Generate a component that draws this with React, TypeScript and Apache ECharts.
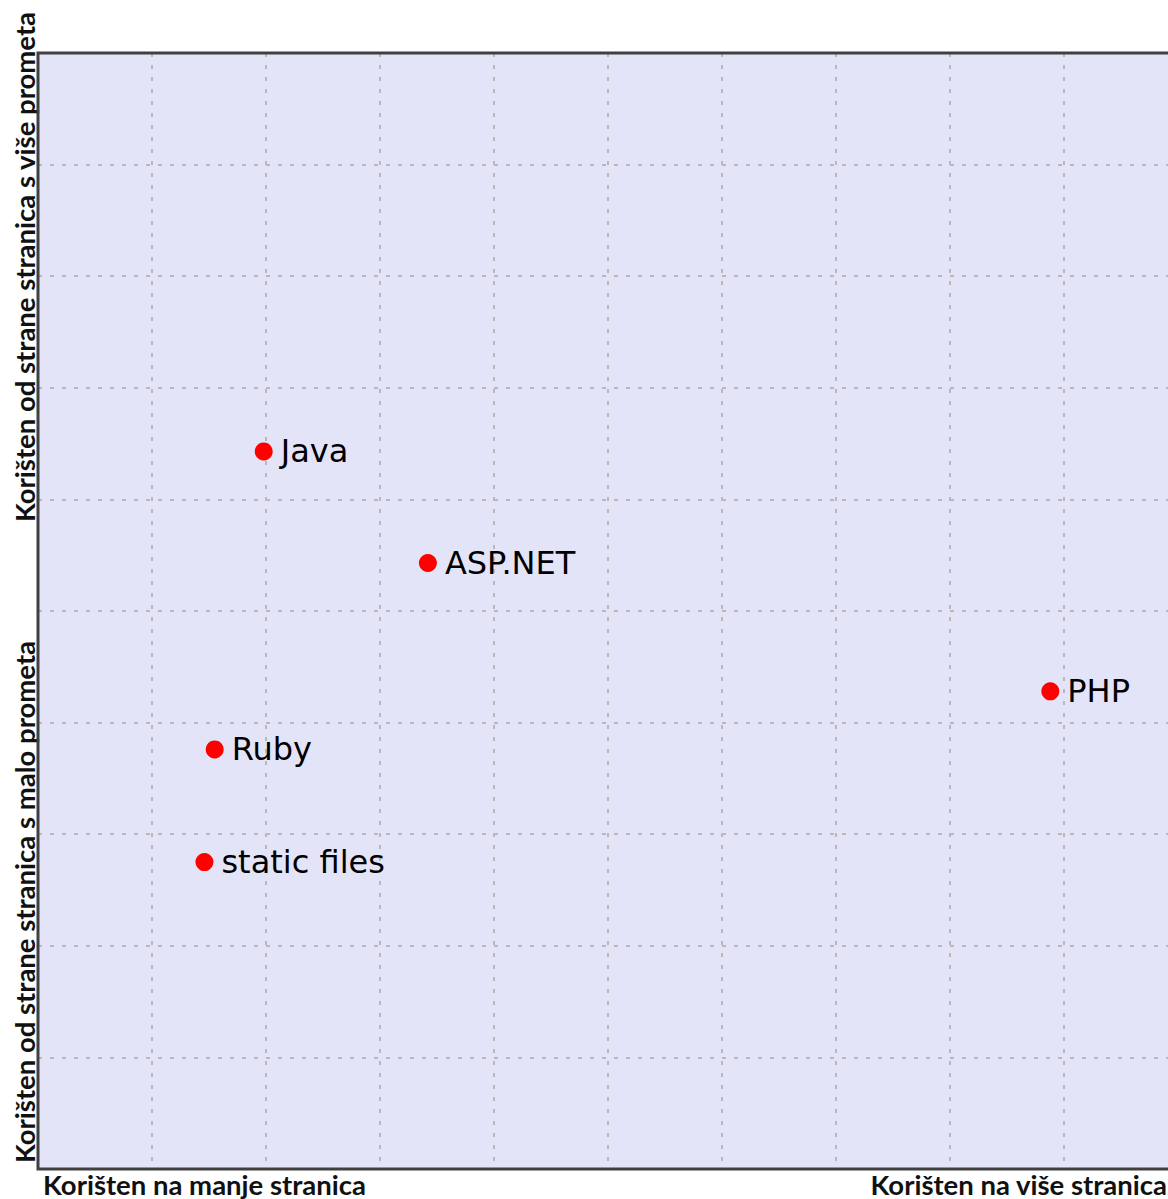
import React, { useEffect, useRef } from "react";
import * as echarts from "echarts";

const names = ["Java", "ASP.NET", "PHP", "Ruby", "static files"];
const usageX = [1.98, 3.42, 8.88, 1.55, 1.46];
const trafficY = [6.43, 5.43, 4.28, 3.76, 2.75];

const yLabelTop = "Korišten od strane stranica s više prometa";
const yLabelBottom = "Korišten od strane stranica s malo prometa";
const xLabelLeft = "Korišten na manje stranica";
const xLabelRight = "Korišten na više stranica";

export default function App() {
  const ref = useRef<HTMLDivElement>(null);
  useEffect(() => {
    if (!ref.current) return;
    const chart = echarts.init(ref.current, null, { renderer: "svg" });
    const axisFont = {
      fontFamily: "Lato",
      fontWeight: "bold" as const,
      fontSize: 27.5,
      fill: "#111",
    };
    const split = {
      show: true,
      lineStyle: { color: "#b8b8b8", width: 2, type: [4, 8] as any },
    };
    chart.setOption({
      animation: false,
      grid: {
        left: 38,
        top: 53,
        width: 1140,
        height: 1116,
        show: true,
        backgroundColor: "#e4e4f8",
        borderWidth: 0,
      },
      xAxis: {
        type: "value",
        min: 0,
        max: 10,
        interval: 1,
        axisLine: { show: false },
        axisTick: { show: false },
        axisLabel: { show: false },
        splitLine: split,
      },
      yAxis: {
        type: "value",
        min: 0,
        max: 10,
        interval: 1,
        axisLine: { show: false },
        axisTick: { show: false },
        axisLabel: { show: false },
        splitLine: split,
      },
      series: [
        {
          type: "scatter",
          symbol: "circle",
          symbolSize: 18,
          itemStyle: { color: "#ff0000", opacity: 1 },
          label: {
            show: true,
            position: "right",
            distance: 8,
            formatter: (p: any) => p.data[2],
            fontFamily: "DejaVu Sans",
            fontSize: 32,
            color: "#000",
          },
          data: names.map((n, i) => [usageX[i], trafficY[i], n]),
        },
      ],
      graphic: [
        {
          type: "rect",
          z: 100,
          shape: { x: 38, y: 53, width: 1140, height: 1116 },
          style: { fill: "none", stroke: "#404040", lineWidth: 3 },
          silent: true,
        },
        {
          type: "text",
          x: 24,
          y: 267,
          rotation: Math.PI / 2,
          style: { ...axisFont, text: yLabelTop, textAlign: "center", textVerticalAlign: "middle" },
        },
        {
          type: "text",
          x: 24,
          y: 902,
          rotation: Math.PI / 2,
          style: { ...axisFont, text: yLabelBottom, textAlign: "center", textVerticalAlign: "middle" },
        },
        {
          type: "text",
          x: 43,
          y: 1184,
          style: { ...axisFont, text: xLabelLeft, textAlign: "left", textVerticalAlign: "middle" },
        },
        {
          type: "text",
          x: 1167,
          y: 1184,
          style: { ...axisFont, text: xLabelRight, textAlign: "right", textVerticalAlign: "middle" },
        },
      ],
    });
    return () => chart.dispose();
  }, []);
  return (
    <div
      style={{
        position: "absolute",
        left: 0,
        top: 0,
        width: 1168,
        height: 1199,
        overflow: "hidden",
      }}
    >
      <div ref={ref} style={{ width: 1190, height: 1199 }} />
    </div>
  );
}
